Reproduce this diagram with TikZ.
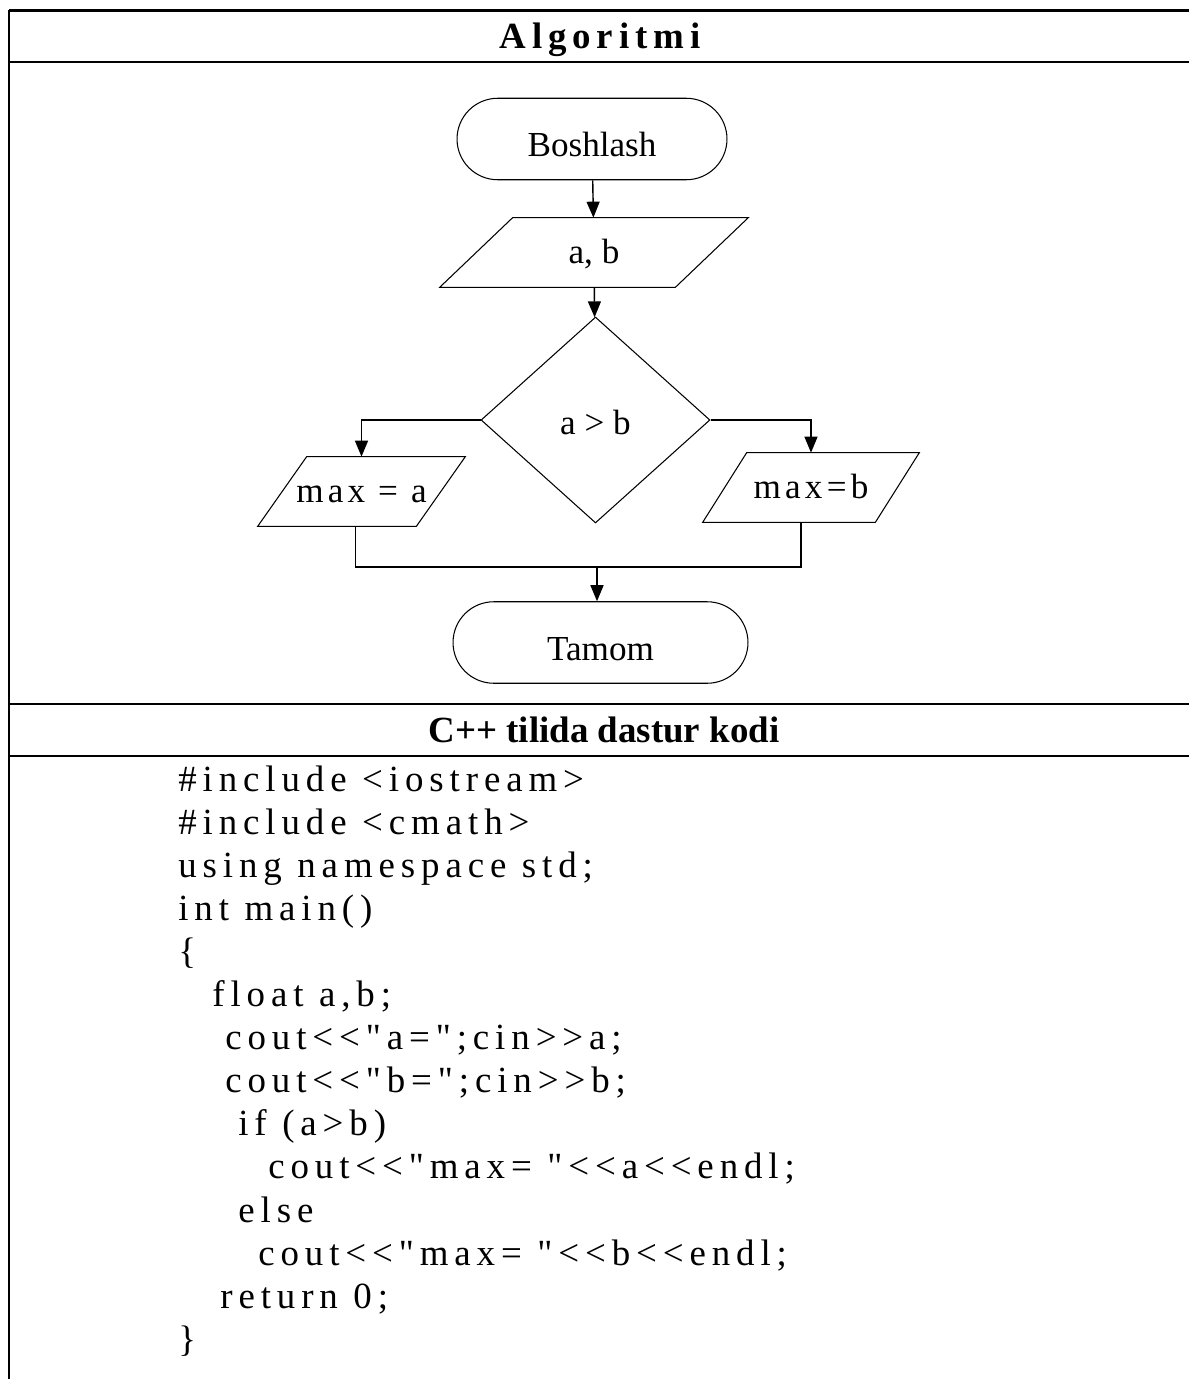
\documentclass[tikz,border=0pt]{standalone}
\usepackage{fontspec}
\setmainfont{Liberation Serif}
\newfontfamily\codefont[LetterSpace=16,Ligatures=TeXOff]{Liberation Serif}
\newfontfamily\headfont[LetterSpace=16]{Liberation Serif}
\newfontfamily\spfont[LetterSpace=12]{Liberation Serif}
\newcommand{\codesp}{\spaceskip=0.42em plus 0.1em\relax}
\usetikzlibrary{arrows.meta,positioning,shapes.misc,shapes.geometric}
\tikzset{
  >={Triangle[length=3.2mm,width=2.6mm]},
  tblline/.style={line width=1.5pt},
  shapeline/.style={draw,line width=0.6pt},
  flowbox/.style={inner sep=0pt,font=\fontsize{20}{24}\selectfont,text depth=0pt},
  termbox/.style={flowbox,shapeline,rounded rectangle,minimum height=1.63cm,text height=20pt},
  parabox/.style={flowbox,minimum height=1.38cm,text height=13pt},
  condbox/.style={flowbox,shapeline,diamond,minimum width=4.58cm,minimum height=4.12cm,text height=17pt},
  link/.style={line width=0.8pt},
  headtxt/.style={anchor=base,inner sep=0pt,font=\fontsize{21}{25}\selectfont\bfseries},
  codetxt/.style={anchor=base west,inner sep=0pt,font=\codefont\fontsize{21}{25}\selectfont\codesp},
}
% name, position, slant, width, text
\newcommand{\inout}[5]{\node[parabox,minimum width=#4] (#1) at (#2) {#5};
  \draw[shapeline] (#1.south west) -- ([xshift=#3]#1.north west) -- (#1.north east) -- ([xshift=-#3]#1.south east) -- cycle;}
\newcommand{\codeln}[4]{\node[codetxt] (#1) at (#2,#3) {#4};}

\begin{document}
\begin{tikzpicture}[x=0.02cm,y=-0.02cm]
  \useasboundingbox (0,0) rectangle (1189,1379);
  % table frame
  \foreach \y in {10.5,62,704,756} \draw[tblline] (9,\y) -- (1189,\y);
  \draw[line width=1.2pt] (9,10) -- (9,1379);
  \node[headtxt,font=\headfont\fontsize{21}{25}\selectfont\bfseries] (h1) at (600,49) {Algoritmi};
  \node[headtxt] (h2) at (604,742) {C++ tilida dastur kodi};
  % flowchart
  \node[termbox,minimum width=5.4cm] (start) at (592,139) {Boshlash};
  \inout{inp}{594,252.5}{1.46cm}{6.16cm}{a, b}
  \node[condbox] (cmp) at (595.5,420) {a > b};
  \inout{maxa}{361.5,491.5}{0.98cm}{4.14cm}{\spfont max = a}
  \inout{maxb}{811,487.5}{0.88cm}{4.32cm}{\spfont max=b}
  \node[termbox,minimum width=5.9cm] (stop) at (600.5,642.5) {Tamom};
  \coordinate (join) at (597,567);
  \draw[link,->] (start) -- (inp);
  \draw[link,->] (inp) -- (cmp);
  \draw[link,->] (cmp.west) -| (maxa.north);
  \draw[link,->] (cmp.east) -| (maxb.north);
  \draw[link] ([xshift=-0.12cm]maxa.south) |- (join) -| ([xshift=-0.2cm]maxb.south);
  \draw[link,->] (join) -- (join |- stop.north);
  % code
  \codeln{c0}{178}{791}{\#include <iostream>}
  \codeln{c1}{178}{834.1}{\#include <cmath>}
  \codeln{c2}{178}{877.2}{using namespace std;}
  \codeln{c3}{178}{920.3}{int main()}
  \codeln{c4}{178}{963.4}{\{}
  \codeln{c5}{212}{1006.5}{float a,b;}
  \codeln{c6}{225}{1049.6}{cout<<"a=";cin>>a;}
  \codeln{c7}{225}{1092.7}{cout<<"b=";cin>>b;}
  \codeln{c8}{238}{1135.8}{if (a>b)}
  \codeln{c9}{268}{1178.9}{cout<<"max= "<<a<<endl;}
  \codeln{c10}{238}{1222}{else}
  \codeln{c11}{258}{1265.1}{cout<<"max= "<<b<<endl;}
  \codeln{c12}{220}{1308.2}{return 0;}
  \codeln{c13}{178}{1351.3}{\}}
\end{tikzpicture}
\end{document}
